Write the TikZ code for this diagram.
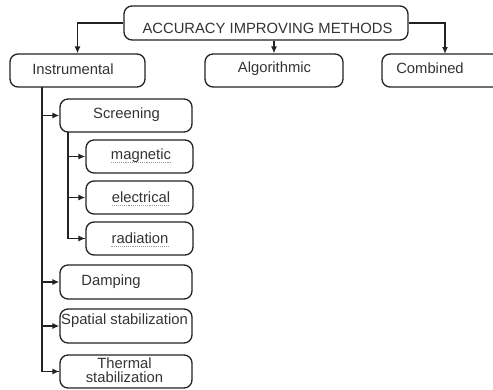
\documentclass[tikz,border=0pt]{standalone}
\usepackage{fontspec}
\setmainfont{Liberation Sans}
\usetikzlibrary{arrows.meta}
\definecolor{ink}{HTML}{222222}
\definecolor{txt}{HTML}{333333}
\begin{document}
\begin{tikzpicture}[x=1pt,y=-1pt,
  box/.style={draw=ink, line width=1.3pt, rounded corners=8pt, inner sep=0pt, anchor=center},
  lbl/.style={text=txt, inner sep=0pt, anchor=center, font=\fontsize{14.8}{16}\selectfont},
  conn/.style={draw=ink, line width=1.3pt},
  arr/.style={conn, -{Latex[length=7pt,width=6pt]}},
  wavy/.style={draw=gray!80, densely dotted, line width=1.1pt}]
\useasboundingbox (0,0) rectangle (493,389);
\clip (0,0) rectangle (493,389);
% top
\node[box, minimum width=284pt, minimum height=34pt] (top) at (266,23) {};
\node[lbl] (topt) at (267.5,28) {ACCURACY IMPROVING METHODS};
% level 1
\node[box, minimum width=135pt, minimum height=33pt] (inst) at (77.5,70.5) {};
\node[lbl] (instt) at (73,69) {Instrumental};
\node[box, minimum width=138pt, minimum height=33pt] (alg) at (274,70.5) {};
\node[lbl] (algt) at (274.5,68.5) {Algorithmic};
\node[box, minimum width=140pt, minimum height=33pt] (comb) at (452,70.5) {};
\node[lbl] (combt) at (430,68.5) {Combined};
% level 2
\node[box, minimum width=132pt, minimum height=33pt] (scr) at (126,115.5) {};
\node[lbl] (scrt) at (126.5,115) {Screening};
\node[box, minimum width=107pt, minimum height=33pt] (mag) at (139.5,156.5) {};
\node[lbl] (magt) at (141,156) {magnetic};
\node[box, minimum width=107pt, minimum height=33pt] (ele) at (139.5,197.5) {};
\node[lbl] (elet) at (141,197) {electrical};
\node[box, minimum width=107pt, minimum height=33pt] (rad) at (139.5,238.5) {};
\node[lbl] (radt) at (140,238) {radiation};
\node[box, minimum width=132pt, minimum height=34pt] (dam) at (126,282) {};
\node[lbl] (damt) at (111,282) {Damping};
\node[box, minimum width=132pt, minimum height=34pt] (spa) at (126,326) {};
\node[lbl] (spat) at (124.5,321) {Spatial stabilization};
\node[box, minimum width=132pt, minimum height=33pt] (the) at (126,371.5) {};
\node[lbl, align=center, font=\fontsize{14.8}{14.5}\selectfont] (thet) at (124.5,370) {Thermal\\stabilization};
% wavy underlines
\draw[wavy] ([yshift=-3pt]magt.base west) -- ([yshift=-3pt]magt.base east);
\draw[wavy] ([yshift=-3pt]elet.base west) -- ([yshift=-3pt]elet.base east);
\draw[wavy] ([yshift=-3pt]radt.base west) -- ([yshift=-3pt]radt.base east);
% coordinates
\coordinate (ctrunk) at (42,87);
\coordinate (cscr) at (68,132);
\coordinate (ccomb) at (445,54);
% connectors from top
\draw[arr] (top.west) -| (inst.north);
\draw[arr] (top.south -| alg.north) -- (alg.north);
\draw[arr] (top.east) -| (ccomb);
% instrumental trunk
\draw[conn] (ctrunk) |- (the.west);
\draw[arr] (scr.west -| ctrunk) -- (scr.west);
\draw[arr] (dam.west -| ctrunk) -- (dam.west);
\draw[arr] (spa.west -| ctrunk) -- (spa.west);
\draw[arr] (the.west -| ctrunk) -- (the.west);
% screening trunk
\draw[conn] (cscr) |- (rad.west);
\draw[arr] (mag.west -| cscr) -- (mag.west);
\draw[arr] (ele.west -| cscr) -- (ele.west);
\draw[arr] (rad.west -| cscr) -- (rad.west);
\end{tikzpicture}
\end{document}
